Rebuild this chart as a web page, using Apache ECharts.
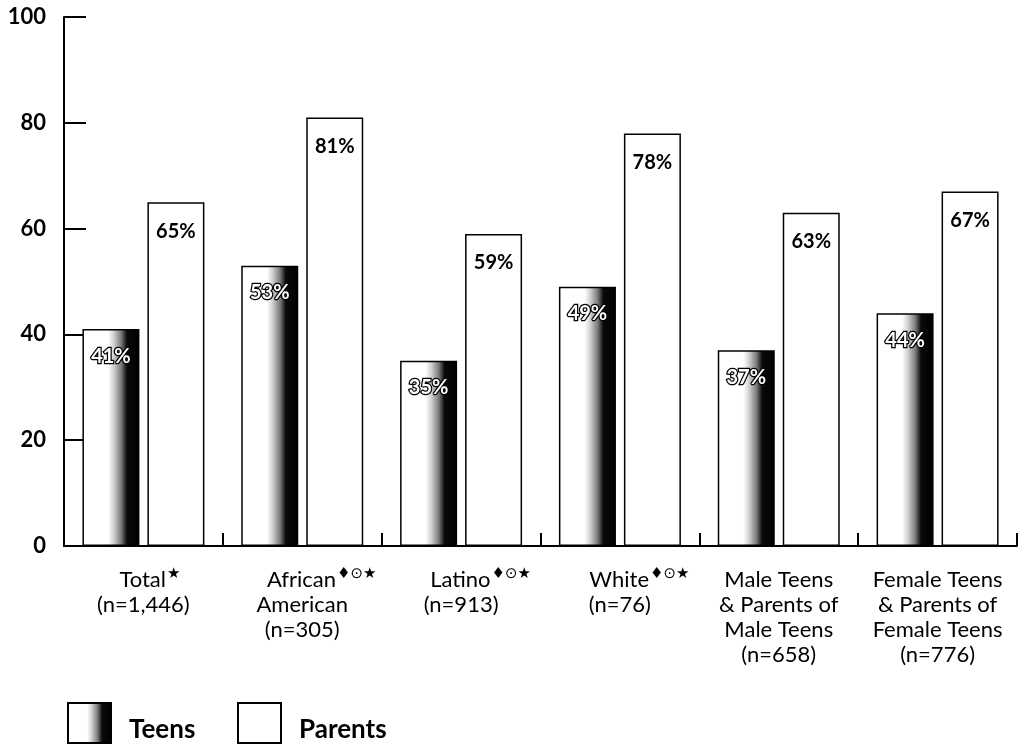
<!DOCTYPE html>
<html>
<head>
<meta charset="utf-8">
<script src="https://cdn.jsdelivr.net/npm/echarts@6/dist/echarts.min.js"></script>
<style>
  html, body { margin: 0; padding: 0; background: #fff; }
  #chart { width: 1021px; height: 749px; }
</style>
</head>
<body>
<div id="chart"></div>
<script>
// Group names, sample sizes and the footnote marks printed after each name
const groupNames = ['Total', 'African\nAmerican', 'Latino', 'White', 'Male Teens\n& Parents of\nMale Teens', 'Female Teens\n& Parents of\nFemale Teens'];
const groupSizes = ['(n=1,446)', '(n=305)', '(n=913)', '(n=76)', '(n=658)', '(n=776)'];
const groupMarks = ['★', '♦⊙★', '♦⊙★', '♦⊙★', '', ''];

// Percentages per group
const teens = [41, 53, 35, 49, 37, 44];
const parents = [65, 81, 59, 78, 63, 67];

// Value axis ticks
const yTicks = [0, 20, 40, 60, 80, 100];

const FONT = 'Lato, "DejaVu Sans", sans-serif';
const MARK_W = 13; // approx width of one superscript mark

// Build each category label: marks sit as superscripts after the first line,
// and the first line is padded so that the word itself stays centred.
const categories = groupNames.map((name, i) => {
  const lines = name.split('\n');
  const marks = groupMarks[i];
  let first = lines[0];
  if (marks) {
    first = '{t' + marks.length + '|' + first + '}{s|' + marks + '}';
  }
  return [first].concat(lines.slice(1)).concat([groupSizes[i]]).join('\n');
});

// Teens fill: white on the left, shading through grey to solid black on the right
const teenFill = {
  type: 'linear', x: 0, y: 0, x2: 1, y2: 0,
  colorStops: [
    { offset: 0, color: '#ffffff' },
    { offset: 0.45, color: '#ffffff' },
    { offset: 0.55, color: '#d0d0d0' },
    { offset: 0.68, color: '#7a7a7a' },
    { offset: 0.78, color: '#0a0a0a' },
    { offset: 1, color: '#000000' }
  ]
};

const chart = echarts.init(document.getElementById('chart'), null, { renderer: 'canvas' });

const rich = {
  s: { fontFamily: '"DejaVu Sans", sans-serif', fontSize: 15, color: '#000', verticalAlign: 'top', lineHeight: 14, padding: [0, 0, 0, 1] },
  t1: { fontFamily: FONT, fontSize: 22, color: '#000', lineHeight: 25, padding: [0, 0, 0, MARK_W] },
  t3: { fontFamily: FONT, fontSize: 22, color: '#000', lineHeight: 25, padding: [0, 0, 0, MARK_W * 3] }
};

const legendText = {
  fontFamily: FONT, fontSize: 26, fontWeight: 'bold', color: '#000',
  padding: [0, 0, 0, 13],
  rich: { a: { fontFamily: FONT, fontSize: 26, fontWeight: 'bold', color: '#000', padding: [14, 0, 0, 0] } }
};

chart.setOption({
  animation: false,
  backgroundColor: '#ffffff',
  grid: { left: 64, right: 4, top: 17, bottom: 203, containLabel: false },
  legend: [
    {
      data: ['Teens'], left: 67, top: 702, padding: 0, itemWidth: 43, itemHeight: 40,
      icon: 'rect', selectedMode: false, formatter: '{a|{name}}', textStyle: legendText
    },
    {
      data: ['Parents'], left: 237, top: 702, padding: 0, itemWidth: 43, itemHeight: 40,
      icon: 'rect', selectedMode: false, formatter: '{a|{name}}', textStyle: legendText
    }
  ],
  xAxis: {
    type: 'category',
    data: categories,
    axisLine: { lineStyle: { color: '#000', width: 2 } },
    axisTick: { show: true, inside: true, length: 13, lineStyle: { color: '#000', width: 2 } },
    axisLabel: {
      interval: 0,
      margin: 21,
      fontFamily: FONT,
      fontSize: 22,
      lineHeight: 25,
      color: '#000',
      rich: rich
    }
  },
  yAxis: {
    type: 'value',
    min: yTicks[0],
    max: yTicks[yTicks.length - 1],
    interval: yTicks[1] - yTicks[0],
    splitLine: { show: false },
    axisLine: { show: true, lineStyle: { color: '#000', width: 2 } },
    axisTick: { show: true, inside: true, length: 22, lineStyle: { color: '#000', width: 2 } },
    axisLabel: { margin: 18, fontFamily: FONT, fontSize: 22, fontWeight: 'bold', color: '#000' }
  },
  series: [
    {
      name: 'Teens',
      type: 'bar',
      data: teens,
      barWidth: 57,
      barGap: '14%',
      itemStyle: { color: teenFill, borderColor: '#000', borderWidth: 1.5 },
      label: {
        show: true, position: 'insideTop', distance: 17,
        formatter: '{c}%',
        fontFamily: FONT, fontSize: 20, fontWeight: 'bold',
        color: '#fff', textBorderColor: '#000', textBorderWidth: 2.5
      }
    },
    {
      name: 'Parents',
      type: 'bar',
      data: parents,
      barWidth: 57,
      itemStyle: { color: '#ffffff', borderColor: '#000', borderWidth: 1.5 },
      label: {
        show: true, position: 'insideTop', distance: 19,
        formatter: '{c}%',
        fontFamily: FONT, fontSize: 20, fontWeight: 'bold', color: '#000'
      }
    }
  ]
});
</script>
</body>
</html>
